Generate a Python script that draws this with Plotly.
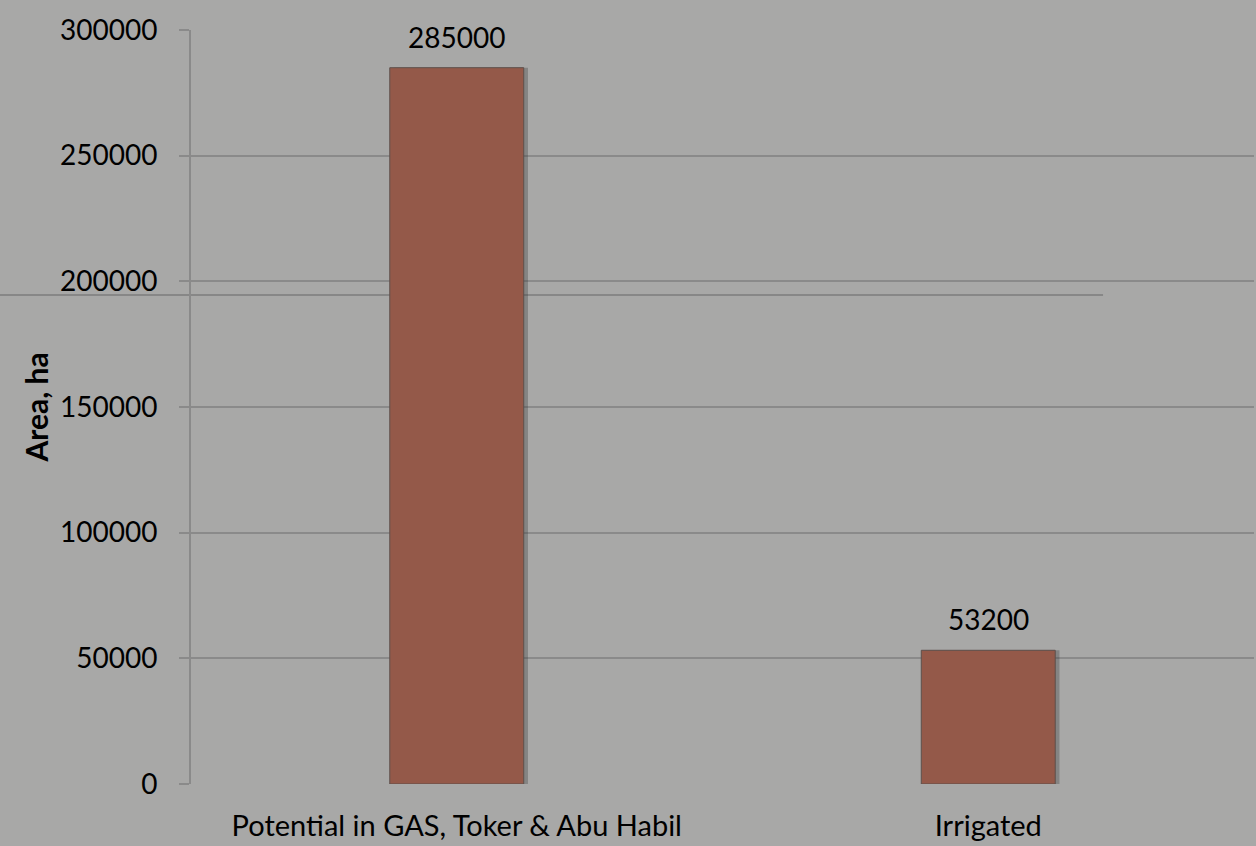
import plotly.graph_objects as go

# Irrigation area figures (hectares)
categories = ["Potential in GAS, Toker & Abu Habil", "Irrigated"]
area_ha = [285000, 53200]
y_ticks = [0, 50000, 100000, 150000, 200000, 250000, 300000]

font_family = "Lato, 'Open Sans', sans-serif"
grid_color = "#8a8a8a"
bar_width = 0.252

fig = go.Figure()

# soft drop shadow behind each bar
fig.add_trace(
    go.Bar(
        x=categories,
        y=area_ha,
        width=bar_width,
        offset=-bar_width / 2 + 0.008,
        marker=dict(color="rgba(50,50,50,0.3)", line=dict(width=0)),
        hoverinfo="skip",
    )
)

fig.add_trace(
    go.Bar(
        x=categories,
        y=area_ha,
        width=bar_width,
        offset=-bar_width / 2,
        marker=dict(color="#945949", line=dict(color="#5e504c", width=1)),
    )
)

# value labels above the bars
annotations = [
    dict(
        x=c,
        y=v,
        text=str(v),
        showarrow=False,
        yanchor="bottom",
        yshift=12,
        font=dict(family=font_family, size=28, color="#000000"),
    )
    for c, v in zip(categories, area_ha)
]

fig.update_layout(
    width=1256,
    height=846,
    margin=dict(l=191, r=2, t=30, b=62),
    paper_bgcolor="#a8a8a7",
    plot_bgcolor="#a8a8a7",
    showlegend=False,
    barmode="overlay",
    font=dict(family=font_family, size=28, color="#000000"),
    annotations=annotations,
    xaxis=dict(
        showgrid=False,
        showline=False,
        ticks="",
        tickfont=dict(size=29),
        ticklabelstandoff=22,
        range=[-0.5, 1.5],
        zeroline=False,
    ),
    yaxis=dict(
        range=[0, 300000],
        tickvals=y_ticks,
        ticktext=[str(v) for v in y_ticks],
        showgrid=True,
        gridcolor=grid_color,
        gridwidth=2,
        showline=True,
        linecolor=grid_color,
        linewidth=2,
        ticks="outside",
        ticklen=10,
        tickcolor=grid_color,
        tickwidth=2,
        tickfont=dict(size=28),
        ticklabelstandoff=16,
        zeroline=False,
        title=dict(
            text="<b>Area, ha</b>",
            font=dict(size=30),
            standoff=2,
        ),
    ),
    shapes=[
        dict(
            type="line",
            xref="paper",
            yref="paper",
            x0=-0.18,
            x1=0.858,
            y0=0.6485,
            y1=0.6485,
            line=dict(color="#7c7c7c", width=1.5),
            layer="below",
        )
    ],
)

fig.write_html("out.html")
